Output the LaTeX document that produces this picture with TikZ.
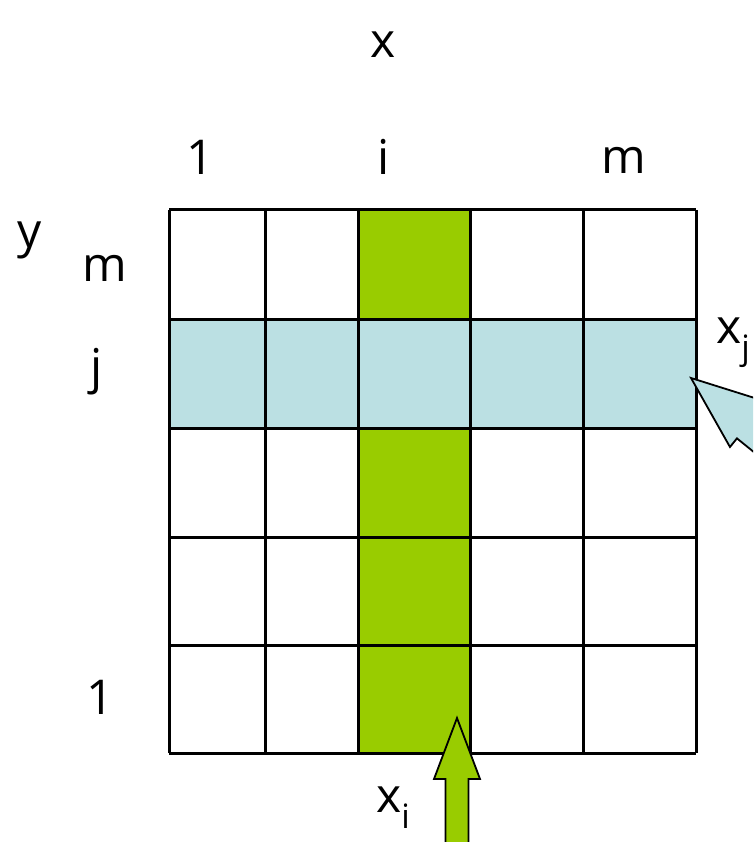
\documentclass[tikz,border=0pt]{standalone}
\usepackage{fontspec}
\setmainfont{Open Sans}
\usepackage{tikz}
\usetikzlibrary{positioning}
\definecolor{colgreen}{HTML}{99CC00}
\definecolor{rowblue}{HTML}{BBE0E3}

\begin{document}
\begin{tikzpicture}[x=1pt, y=-1pt,
    lbl/.style={font=\fontsize{48}{52}\selectfont, inner sep=0pt},
    gridline/.style={draw=black, line width=3pt},
    blockarrow/.style={draw=black, line width=1.8pt, line join=miter}
]
    \useasboundingbox (0,0) rectangle (753,842);
    \fill[white] (0,0) rectangle (753,842);
    \clip (0,0) rectangle (753,842);
    % highlighted column and row
    \fill[colgreen] (358,210) rectangle (470,753);
    \fill[rowblue] (169,319) rectangle (696,428);
    % grid
    \foreach \cx in {169,265,358,470,583,696}
        \draw[gridline] (\cx,210) -- (\cx,753);
    \foreach \ry in {210,319,428,537,645,753}
        \draw[gridline] (169,\ry) -- (696,\ry);
    % axis labels
    \node[lbl] (xaxis) at (383,45) {x};
    \node[lbl] (yaxis) at (30,240) {y};
    \node[lbl] (colone) at (200,157) {1};
    \node[lbl] (coli) at (384,157) {i};
    \node[lbl] (colm) at (624,160) {m};
    \node[lbl] (rowm) at (105,268) {m};
    \node[lbl] (rowj) at (97,372) {j};
    \node[lbl] (rowone) at (100,697) {1};
    % pointers
    \draw[blockarrow, fill=colgreen] (457,718) -- (480,779) -- (468.5,779)
        -- (468.5,860) -- (445.5,860) -- (445.5,779) -- (434,779) -- cycle;
    \begin{scope}[shift={(691,378)}, rotate=-39]
        \draw[blockarrow, fill=rowblue] (0,0) -- (73.7,29.1) -- (73.7,18)
            -- (260,18) -- (260,-18) -- (73.7,-18) -- (73.7,-29.1) -- cycle;
    \end{scope}
    \node[lbl, anchor=west] (xj) at (716,343) {x\textsubscript{j}};
    \node[lbl, anchor=west] (xi) at (376,808) {x\textsubscript{i}};
\end{tikzpicture}
\end{document}
